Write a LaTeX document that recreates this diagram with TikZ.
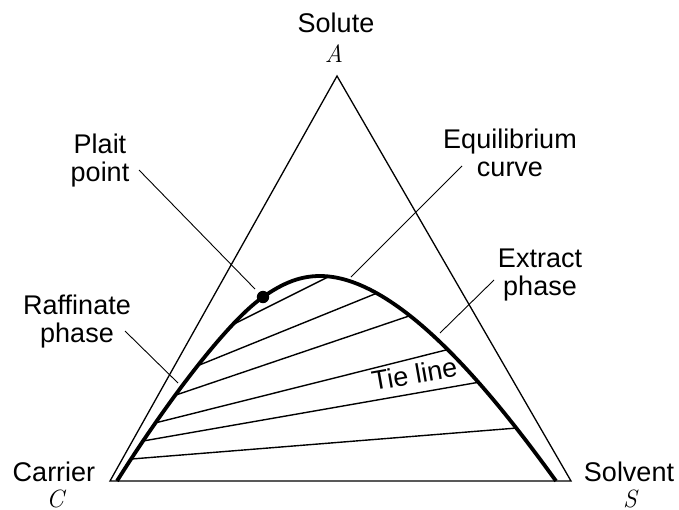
\documentclass[tikz,border=0pt]{standalone}
\usepackage{fontspec}
\setmainfont{Liberation Sans}
\newfontfamily\varfont{Latin Modern Roman}
\begin{document}
\begin{tikzpicture}[x=1pt,y=-1pt,
  tri/.style={line width=1.3pt},
  eqcurve/.style={line width=3.8pt},
  tie/.style={line width=1.4pt},
  leader/.style={line width=0.9pt},
  lbl/.style={font=\fontsize{27}{28}\selectfont, align=center, inner sep=0pt, anchor=base},
  var/.style={font=\varfont\itshape\fontsize{25}{25}\selectfont, inner sep=0pt, anchor=base}]
\useasboundingbox (0,0) rectangle (679,509);
% triangle
\coordinate (A) at (337,76);
\coordinate (C) at (110,481);
\coordinate (S) at (571,481);
\draw[tri] (A) -- (C) -- (S) -- cycle;
% equilibrium curve points
\coordinate (e0) at (117,481);
\coordinate (r1) at (131.5,459);
\coordinate (r2) at (143,441);
\coordinate (r3) at (155,423);
\coordinate (r4) at (173,396);
\coordinate (r5) at (197,366);
\coordinate (r6) at (232,325);
\coordinate (P) at (263,297);
\coordinate (top) at (320,276);
\coordinate (x6) at (328,277);
\coordinate (x5) at (376,293.5);
\coordinate (x4) at (409,316);
\coordinate (x3) at (448,349.5);
\coordinate (x2) at (480,382);
\coordinate (x1) at (517,428);
\coordinate (e1) at (556,481);
% tie lines
\draw[tie] (r1) -- (x1);
\draw[tie] (r2) -- (x2);
\draw[tie] (r3) -- (x3);
\draw[tie] (r4) -- (x4);
\draw[tie] (r5) -- (x5);
\draw[tie] (r6) -- (x6);
\draw[eqcurve] (e0) .. controls (157,417) and (223,325) .. (P)
  .. controls (283,283) and (300,276) .. (top)
  .. controls (400,276) and (496,398) .. (e1);
\fill (P) circle (6.2pt);
% labels
\node[lbl] (solute) at (336,32) {Solute};
\node[var] (vA) at (334,62) {A};
\node[lbl] (carrier) at (54,481) {Carrier};
\node[var] (vC) at (55,507) {C};
\node[lbl] (solvent) at (629,481) {Solvent};
\node[var] (vS) at (630,507) {S};
\node[lbl] (plait) at (100,181) {Plait\\point};
\node[lbl] (equil) at (510,176) {Equilibrium\\curve};
\node[lbl] (extract) at (540,295) {Extract\\phase};
\node[lbl] (raff) at (77,342) {Raffinate\\phase};
\node[lbl, rotate=10] (tie) at (416,383.5) {Tie line};
% leader lines
\coordinate (lp1) at (139,170);
\coordinate (lp2) at (255,289);
\coordinate (lr1) at (125,331);
\coordinate (lr2) at (178,383);
\coordinate (le1) at (462,166);
\coordinate (le2) at (351,277);
\coordinate (lx1) at (494,280);
\coordinate (lx2) at (440,333);
\draw[leader] (lp1) -- (lp2);
\draw[leader] (lr1) -- (lr2);
\draw[leader] (le1) -- (le2);
\draw[leader] (lx1) -- (lx2);
\end{tikzpicture}
\end{document}
